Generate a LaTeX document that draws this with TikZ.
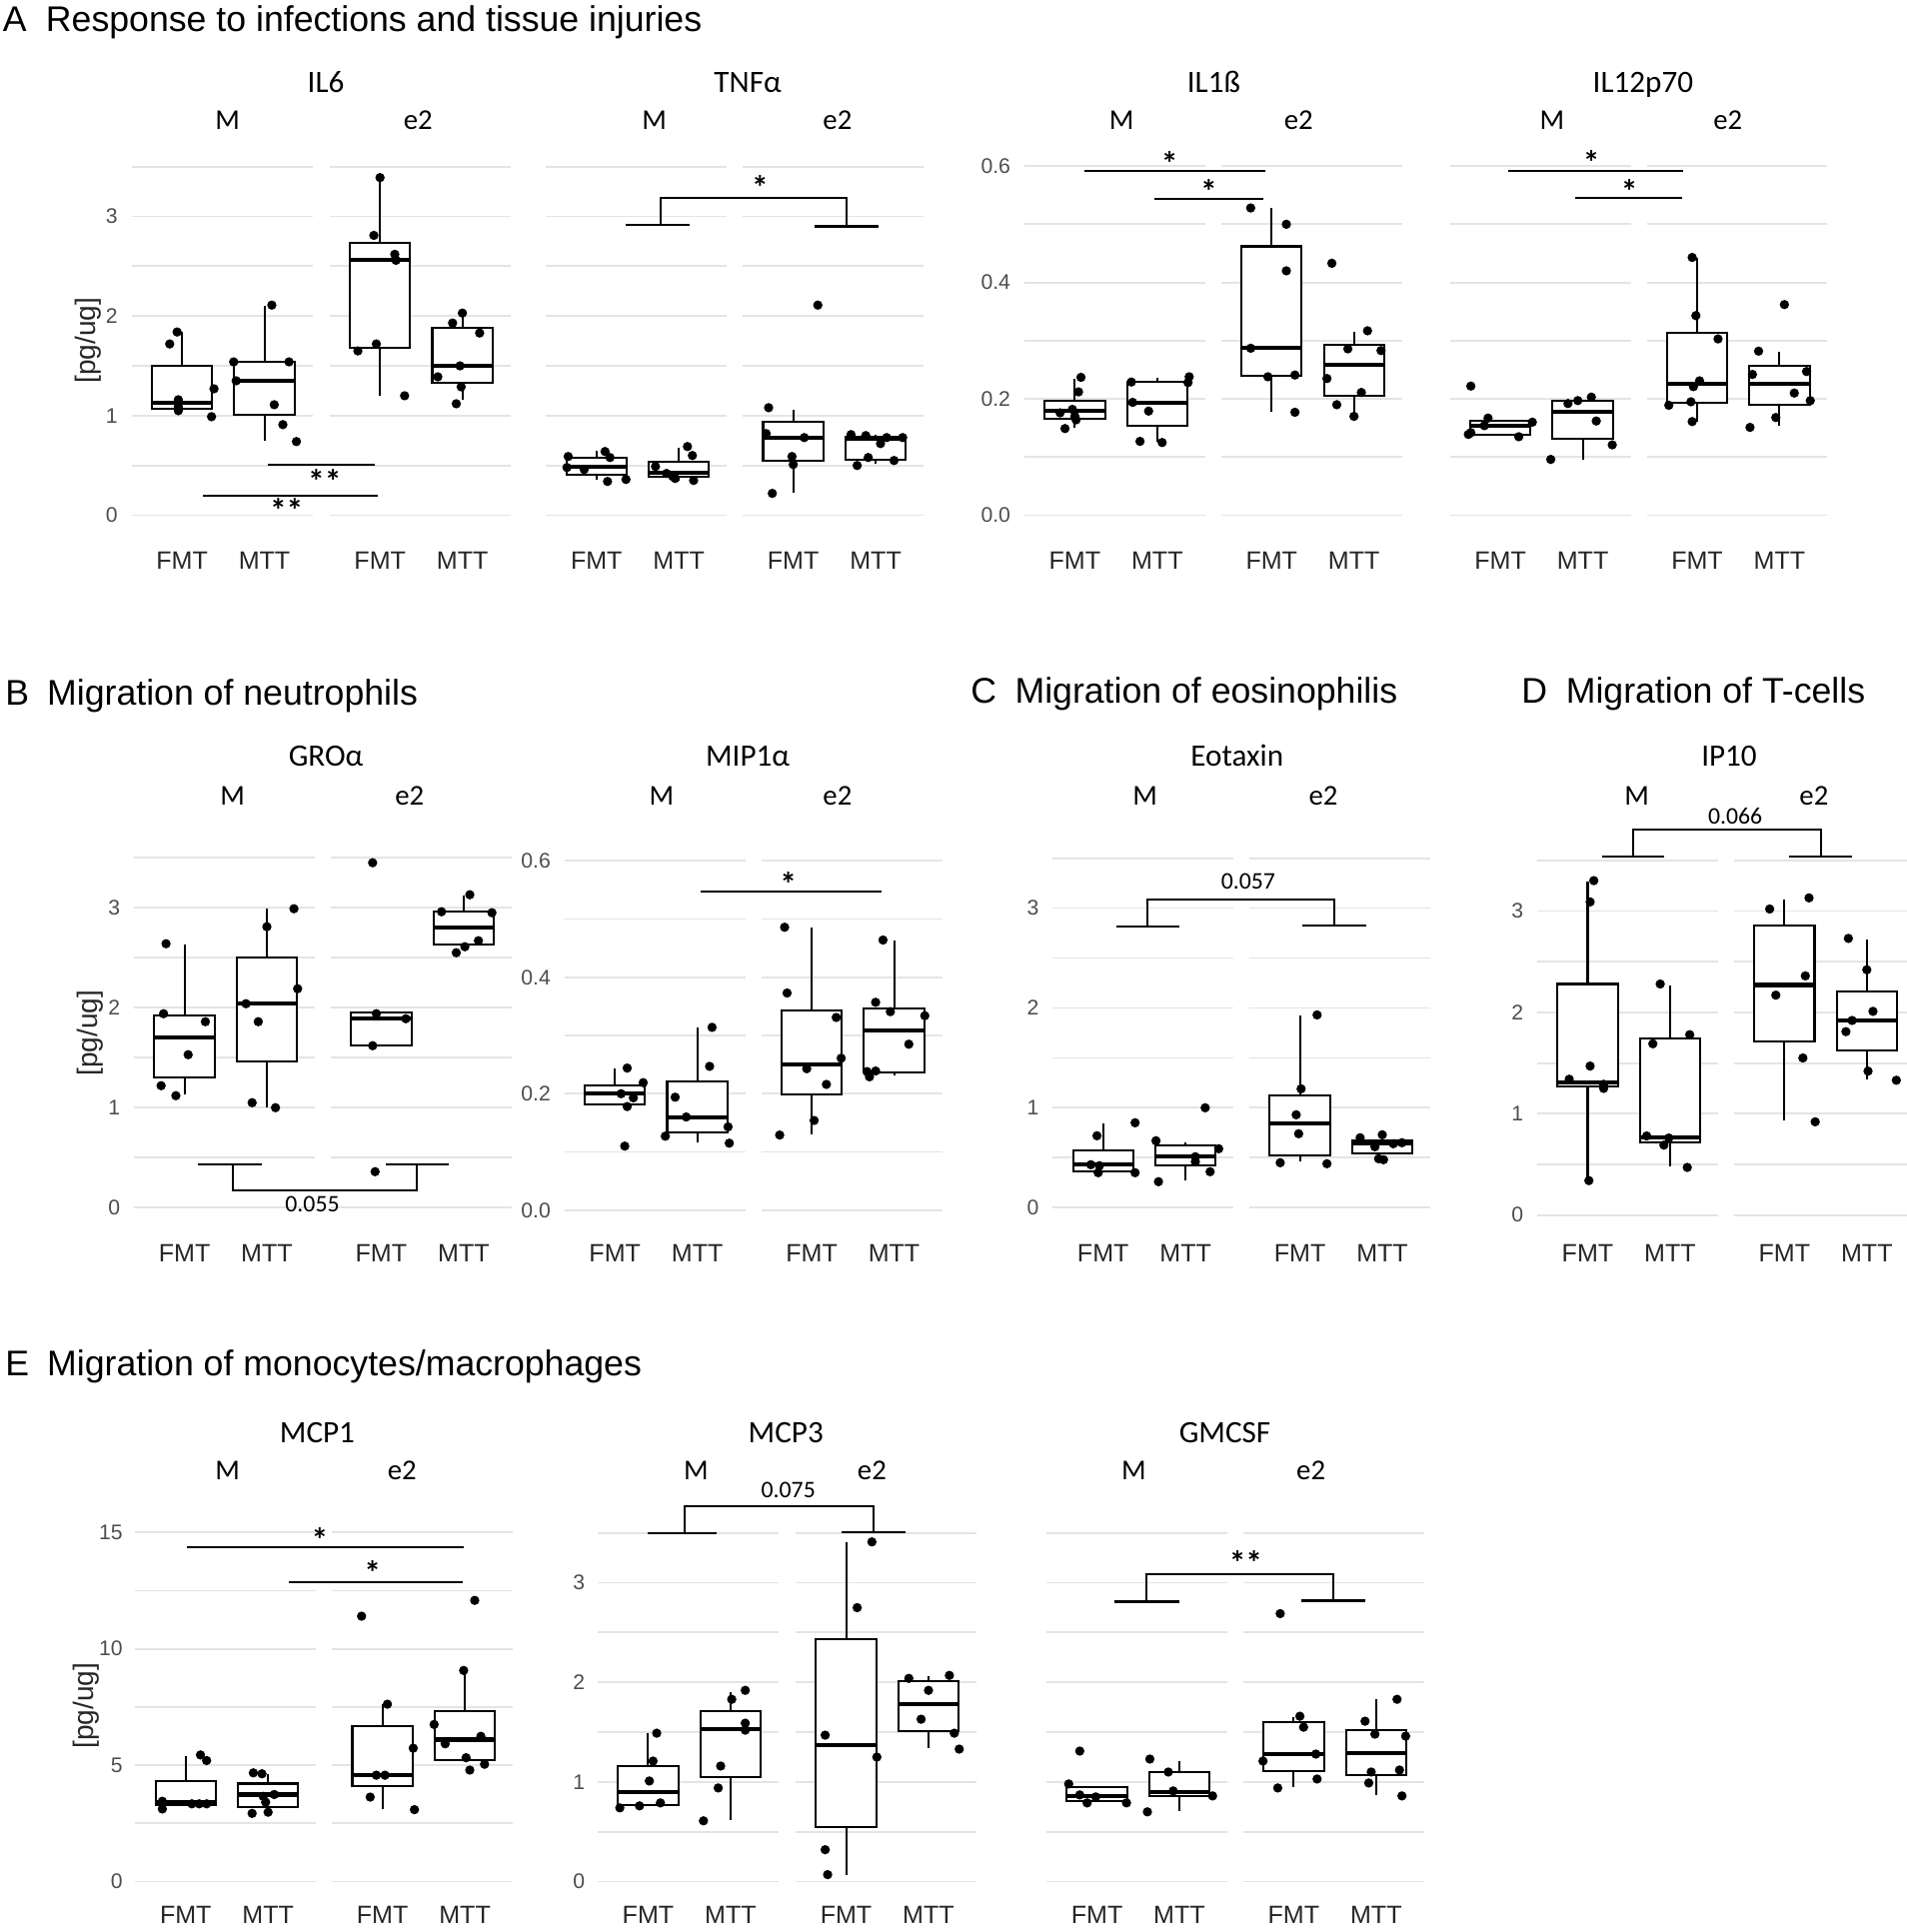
\documentclass[tikz,border=0pt]{standalone}
\usepackage{fontspec}
\setmainfont{Liberation Sans}
\newfontfamily\calfont{Carlito}
\usepackage{tikz}
\definecolor{gridgray}{HTML}{E4E4E4}
\definecolor{tickgray}{HTML}{4D4D4D}

\newcommand{\facets}[3]{%
  \foreach \g in {#3}
    \draw[gridln] (#1,{\yo-\ppu*\g}) -- ++(147,0) (#2,{\yo-\ppu*\g}) -- ++(147,0);
}
\newcommand{\yticks}[2]{%
  \foreach \v/\t in {#2}
    \node[ytick] at (#1,{\yo-\ppu*\v}) {\t};
}
\newcommand{\xlabs}[5]{%
  \foreach \x/\t in {#2/FMT,#3/MTT,#4/FMT,#5/MTT}
    \node[xlab] (x\x) at (\x,#1) {\t};
}
\newcommand{\bxp}[7]{%
  \draw[boxln] (#1,{\yo-\ppu*#2}) -- (#1,{\yo-\ppu*#6});
  \draw[boxln,fill=white] (#1-24.5,{\yo-\ppu*#3}) rectangle (#1+24.5,{\yo-\ppu*#5});
  \draw[medln] (#1-24.5,{\yo-\ppu*#4}) -- (#1+24.5,{\yo-\ppu*#4});
  \foreach \dx/\v in {#7}
    \fill (#1+\dx,{\yo-\ppu*\v}) circle[radius=3.8];
}
\newcommand{\sigline}[3]{%
  \draw[sig] (#1,{\yo-\ppu*#3}) -- (#2,{\yo-\ppu*#3});
}
\newcommand{\brk}[9]{%
  \draw[sig] (#1,{\yo-\ppu*#7}) -- (#2,{\yo-\ppu*#7})
    (#3,{\yo-\ppu*#7}) -- (#3,{\yo-\ppu*#8}) -- (#4,{\yo-\ppu*#8}) -- (#4,{\yo-\ppu*#9})
    (#5,{\yo-\ppu*#9}) -- (#6,{\yo-\ppu*#9});
}

\begin{document}
\begin{tikzpicture}[x=0.02cm,y=-0.02cm,
  every node/.style={inner sep=0pt},
  gridln/.style={gridgray,line width=0.85pt},
  boxln/.style={line width=0.95pt},
  medln/.style={line width=1.9pt},
  sig/.style={line width=0.95pt},
  hd/.style={anchor=base west,font=\fontsize{16.5}{19}\selectfont},
  ttl/.style={anchor=base,font=\calfont\fontsize{14.4}{16}\selectfont},
  grp/.style={anchor=base,font=\calfont\fontsize{13.3}{15}\selectfont},
  xlab/.style={font=\fontsize{11.6}{13}\selectfont,text=black!85},
  ytick/.style={anchor=east,font=\fontsize{9.8}{11}\selectfont,text=tickgray},
  ylab/.style={rotate=90,font=\fontsize{13}{15}\selectfont,text=black!85},
  star/.style={font=\calfont\bfseries\fontsize{15.5}{17}\selectfont},
  pval/.style={font=\calfont\fontsize{11}{13}\selectfont}]
\useasboundingbox (0,0) rectangle (1550,1571);

\node[hd] (hA) at (2,26) {A};
\node[hd] (hAt) at (37,26) {Response to infections and tissue injuries};
\node[hd] (hB) at (4,573) {B};
\node[hd] (hBt) at (38,573) {Migration of neutrophils};
\node[hd] (hC) at (789,572) {C};
\node[hd] (hCt) at (825,572) {Migration of eosinophilis};
\node[hd] (hD) at (1237,572) {D};
\node[hd] (hDt) at (1273,572) {Migration of T-cells};
\node[hd] (hE) at (4,1119) {E};
\node[hd] (hEt) at (38,1119) {Migration of monocytes/macrophages};

% IL6
\def\yo{419}\def\ppu{81}
\facets{107}{268}{0,0.5,1,1.5,2,2.5,3,3.5}
\yticks{96}{0/0,1/1,2/2,3/3}
\bxp{148}{1.07}{1.07}{1.13}{1.50}{1.84}{-10/1.72,-4/1.84,-3/1.16,-3/1.09,-3/1.05,26/1.27,24/0.99}
\bxp{215}{0.75}{1.01}{1.35}{1.54}{2.10}{6/2.11,-25/1.54,20/1.54,-23/1.35,8/1.11,15/0.91,26/0.74}
\bxp{309}{1.20}{1.68}{2.56}{2.73}{3.39}{0/3.39,-5/2.81,12/2.62,13/2.56,-3/1.72,-18/1.65,20/1.20}
\bxp{376}{1.16}{1.33}{1.50}{1.88}{2.02}{0/2.03,-8/1.93,14/1.83,-2/1.50,-20/1.39,-1/1.29,-5/1.12}
\sigline{218}{305}{0.51}
\sigline{165}{307}{0.20}
\node[star] (sIL6a) at (264,391) {**};
\node[star] (sIL6b) at (233,415) {**};
\xlabs{456}{148}{215}{309}{376}
\node[ylab] (yIL6) at (72,277) {[pg/ug]};
\node[ttl] (tIL6) at (265,75) {IL6};
\node[grp] (mIL6) at (185,105) {M};
\node[grp] (eIL6) at (340,105) {e2};

% TNFa
\facets{444}{604}{0,0.5,1,1.5,2,2.5,3,3.5}
\bxp{485}{0.36}{0.41}{0.49}{0.58}{0.65}{-23/0.59,-24/0.48,-10/0.46,7/0.64,11/0.58,9/0.34,24/0.36}
\bxp{552}{0.35}{0.39}{0.43}{0.54}{0.68}{-19/0.49,-10/0.42,-3/0.37,7/0.69,11/0.60,12/0.35,-5/0.39}
\bxp{645}{0.23}{0.55}{0.78}{0.94}{1.06}{-20/1.08,-22/0.82,9/0.78,-1/0.59,0/0.51,-17/0.22,20/2.11}
\bxp{712}{0.52}{0.56}{0.77}{0.79}{0.81}{-20/0.81,-8/0.80,9/0.78,4/0.72,22/0.78,-6/0.58,15/0.55,-15/0.50}
\brk{509}{561}{537}{688}{662}{714}{2.92}{3.19}{2.90}
\node[star] (sTNF) at (618,152) {*};
\xlabs{456}{485}{552}{645}{712}
\node[ttl] (tTNF) at (608,75) {TNFα};
\node[grp] (mTNF) at (532,105) {M};
\node[grp] (eTNF) at (681,105) {e2};

% IL1b
\def\ppu{473.3}
\facets{833}{993}{0,0.1,0.2,0.3,0.4,0.5,0.6}
\yticks{822}{0/0.0,0.2/0.2,0.4/0.4,0.6/0.6}
\bxp{874}{0.150}{0.166}{0.179}{0.197}{0.235}{5/0.237,3/0.212,-12/0.176,-2/0.182,0/0.170,1/0.164,-8/0.149}
\bxp{941}{0.127}{0.154}{0.194}{0.229}{0.237}{-21/0.229,26/0.238,25/0.228,-20/0.194,-7/0.179,-14/0.127,4/0.125}
\bxp{1034}{0.178}{0.239}{0.287}{0.462}{0.528}{-17/0.528,12/0.500,12/0.420,-17/0.287,-3/0.238,19/0.241,19/0.177}
\bxp{1101}{0.170}{0.205}{0.259}{0.293}{0.316}{-18/0.433,11/0.317,-5/0.286,22/0.283,-22/0.235,6/0.211,-14/0.190,0/0.170}
\sigline{882}{1029}{0.592}
\sigline{939}{1027}{0.544}
\node[star] (sIL1a) at (951,133) {*};
\node[star] (sIL1b) at (983,156) {*};
\xlabs{456}{874}{941}{1034}{1101}
\node[ttl] (tIL1) at (987,75) {IL1ß};
\node[grp] (mIL1) at (912,105) {M};
\node[grp] (eIL1) at (1056,105) {e2};

% IL12p70
\facets{1179}{1339}{0,0.1,0.2,0.3,0.4,0.5,0.6}
\bxp{1220}{0.139}{0.139}{0.154}{0.162}{0.162}{-24/0.222,-10/0.167,-13/0.154,-26/0.139,-24/0.142,15/0.135,26/0.160}
\bxp{1287}{0.096}{0.131}{0.178}{0.197}{0.197}{-12/0.192,-4/0.197,7/0.203,11/0.162,24/0.121,-26/0.096}
\bxp{1380}{0.160}{0.193}{0.226}{0.314}{0.443}{-4/0.443,-1/0.343,17/0.303,2/0.231,-3/0.221,-5/0.195,-23/0.189,-4/0.161}
\bxp{1447}{0.154}{0.190}{0.226}{0.256}{0.281}{4/0.362,-17/0.282,-22/0.242,22/0.247,12/0.210,25/0.197,-3/0.168,-24/0.151}
\sigline{1226}{1369}{0.592}
\sigline{1281}{1368}{0.545}
\node[star] (sIL12a) at (1294,132) {*};
\node[star] (sIL12b) at (1325,156) {*};
\xlabs{456}{1220}{1287}{1380}{1447}
\node[ttl] (tIL12) at (1336,75) {IL12p70};
\node[grp] (mIL12) at (1262,105) {M};
\node[grp] (eIL12) at (1405,105) {e2};

% GROa
\def\yo{982}\def\ppu{81.3}
\facets{109}{269}{0,0.5,1,1.5,2,2.5,3,3.5}
\yticks{98}{0/0,1/1,2/2,3/3}
\bxp{150}{1.13}{1.30}{1.70}{1.92}{2.63}{-15/2.64,-17/1.94,17/1.86,3/1.53,-19/1.22,-7/1.12}
\bxp{217}{1.00}{1.46}{2.04}{2.50}{2.99}{22/2.99,0/2.81,25/2.19,-17/2.04,-7/1.86,-12/1.05,7/1.00}
\bxp{310}{1.62}{1.62}{1.89}{1.95}{1.95}{-7/3.45,-4/1.94,20/1.89,-7/1.62,-5/0.36}
\bxp{377}{2.63}{2.63}{2.80}{2.96}{3.12}{5/3.13,-18/2.96,23/2.95,-6/2.55,1/2.61,12/2.67}
\brk{161}{213}{189}{339}{314}{365}{0.43}{0.17}{0.43}
\node[pval] (pGRO) at (254,979) {0.055};
\xlabs{1019}{150}{217}{310}{377}
\node[ylab] (yGRO) at (73,840) {[pg/ug]};
\node[ttl] (tGRO) at (265,623) {GROα};
\node[grp] (mGRO) at (189,655) {M};
\node[grp] (eGRO) at (333,655) {e2};

% MIP1a
\def\yo{984}\def\ppu{473.3}
\facets{459}{619}{0,0.1,0.2,0.3,0.4,0.5,0.6}
\yticks{448}{0/0.0,0.2/0.2,0.4/0.4,0.6/0.6}
\bxp{500}{0.182}{0.182}{0.200}{0.215}{0.243}{10/0.244,23/0.219,5/0.200,15/0.193,10/0.178,8/0.110}
\bxp{567}{0.116}{0.134}{0.160}{0.221}{0.314}{12/0.314,10/0.247,-18/0.194,-9/0.160,25/0.143,-26/0.127,26/0.115}
\bxp{660}{0.130}{0.199}{0.251}{0.343}{0.486}{-22/0.486,-20/0.373,20/0.331,24/0.261,-4/0.243,12/0.216,2/0.154,-26/0.129}
\bxp{727}{0.232}{0.237}{0.309}{0.346}{0.464}{-9/0.464,-15/0.357,-3/0.341,25/0.334,12/0.285,-22/0.238,-20/0.229,-15/0.239}
\sigline{570}{717}{0.548}
\node[star] (sMIP) at (641,719) {*};
\xlabs{1019}{500}{567}{660}{727}
\node[ttl] (tMIP) at (608,623) {MIP1α};
\node[grp] (mMIP) at (538,655) {M};
\node[grp] (eMIP) at (681,655) {e2};

% Eotaxin
\def\yo{982}\def\ppu{81.2}
\facets{856}{1016}{0,0.5,1,1.5,2,2.5,3,3.5}
\yticks{845}{0/0,1/1,2/2,3/3}
\bxp{897}{0.36}{0.36}{0.43}{0.57}{0.84}{26/0.85,-5/0.72,-10/0.43,-3/0.42,-4/0.35,26/0.35}
\bxp{964}{0.27}{0.42}{0.51}{0.62}{0.65}{16/1.00,-24/0.67,27/0.59,8/0.51,8/0.46,20/0.36,-22/0.26}
\bxp{1057}{0.46}{0.52}{0.84}{1.12}{1.92}{14/1.93,1/1.19,-3/0.93,-1/0.74,-16/0.45,22/0.44}
\bxp{1124}{0.54}{0.54}{0.64}{0.67}{0.67}{-18/0.70,0/0.73,-6/0.61,9/0.64,16/0.65,-3/0.49,1/0.48}
\brk{908}{959}{933}{1085}{1059}{1111}{2.82}{3.09}{2.83}
\node[pval] (pEOT) at (1015,717) {0.057};
\xlabs{1019}{897}{964}{1057}{1124}
\node[ttl] (tEOT) at (1006,623) {Eotaxin};
\node[grp] (mEOT) at (931,655) {M};
\node[grp] (eEOT) at (1076,655) {e2};

% IP10
\def\yo{988}\def\ppu{82.4}
\facets{1250}{1410}{0,0.5,1,1.5,2,2.5,3,3.5}
\yticks{1239}{0/0,1/1,2/2,3/3}
\bxp{1291}{0.34}{1.27}{1.31}{2.28}{3.29}{5/3.30,2/3.09,2/1.47,-15/1.34,13/1.29,13/1.25,1/0.34}
\bxp{1358}{0.48}{0.72}{0.77}{1.74}{2.27}{-8/2.28,16/1.78,-14/1.69,-19/0.78,-1/0.76,-5/0.69,14/0.47}
\bxp{1451}{0.93}{1.71}{2.27}{2.86}{3.11}{20/3.13,-12/3.02,17/2.36,-7/2.17,15/1.55,25/0.92}
\bxp{1518}{1.34}{1.62}{1.92}{2.21}{2.72}{-15/2.73,0/2.42,5/2.01,-12/1.92,-17/1.81,1/1.42,24/1.33}
\brk{1303}{1353}{1328}{1481}{1455}{1506}{3.54}{3.80}{3.54}
\node[pval] (pIP) at (1411,664) {0.066};
\xlabs{1019}{1291}{1358}{1451}{1518}
\node[ttl] (tIP) at (1406,623) {IP10};
\node[grp] (mIP) at (1331,655) {M};
\node[grp] (eIP) at (1475,655) {e2};

% MCP1
\def\yo{1530}\def\ppu{18.93}
\facets{110}{270}{0,2.5,5,7.5,10,12.5,15}
\yticks{100}{0/0,5/5,10/10,15/15}
\bxp{151}{3.31}{3.31}{3.41}{4.31}{5.37}{12/5.44,17/5.20,-19/3.45,-19/3.12,5/3.34,11/3.34,17/3.34}
\bxp{218}{3.19}{3.19}{3.74}{4.21}{4.64}{-12/4.67,-5/4.63,5/3.74,-4/3.66,-2/3.41,-13/2.93,0/2.98}
\bxp{311}{3.12}{4.09}{4.57}{6.68}{7.62}{-17/11.40,4/7.62,25/5.73,-5/4.57,2/4.57,-10/3.63,26/3.09}
\bxp{378}{5.22}{5.22}{6.10}{7.33}{9.03}{8/12.08,-1/9.07,-25/6.75,-16/5.92,13/6.24,1/5.32,4/4.79,16/5.04}
\sigline{152}{377}{14.38}
\sigline{235}{376}{12.88}
\node[star] (sMCP1a) at (260,1252) {*};
\node[star] (sMCP1b) at (303,1279) {*};
\xlabs{1557}{151}{218}{311}{378}
\node[ylab] (yMCP1) at (70,1387) {[pg/ug]};
\node[ttl] (tMCP1) at (258,1173) {MCP1};
\node[grp] (mMCP1) at (185,1203) {M};
\node[grp] (eMCP1) at (327,1203) {e2};

% MCP3
\def\ppu{81}
\facets{486}{647}{0,0.5,1,1.5,2,2.5,3,3.5}
\yticks{476}{0/0,1/1,2/2,3/3}
\bxp{527}{0.77}{0.77}{0.90}{1.16}{1.49}{7/1.49,4/1.21,1/1.01,-23/0.74,-7/0.76,10/0.79}
\bxp{594}{0.62}{1.05}{1.53}{1.71}{1.90}{12/1.92,1/1.83,12/1.59,12/1.52,-8/1.16,-10/0.94,-22/0.61}
\bxp{688}{0.07}{0.55}{1.37}{2.43}{3.41}{21/3.41,9/2.75,-17/1.47,25/1.25,-17/0.32,-15/0.07}
\bxp{755}{1.34}{1.51}{1.78}{2.01}{2.06}{-16/2.04,17/2.07,0/1.92,-6/1.63,21/1.49,25/1.33}
\brk{527}{583}{557}{710}{684}{736}{3.50}{3.77}{3.51}
\node[pval] (pMCP3) at (641,1212) {0.075};
\xlabs{1557}{527}{594}{688}{755}
\node[ttl] (tMCP3) at (639,1173) {MCP3};
\node[grp] (mMCP3) at (566,1203) {M};
\node[grp] (eMCP3) at (709,1203) {e2};

% GMCSF
\facets{851}{1011}{0,0.5,1,1.5,2,2.5,3,3.5}
\bxp{892}{0.81}{0.81}{0.86}{0.95}{0.95}{-14/1.31,-23/0.98,-14/0.87,-1/0.85,-8/0.79,24/0.79}
\bxp{959}{0.71}{0.86}{0.90}{1.10}{1.21}{-24/1.23,-9/1.10,-5/0.91,27/0.86,-26/0.70}
\bxp{1052}{0.95}{1.11}{1.28}{1.60}{1.65}{-11/2.69,5/1.66,8/1.55,18/1.28,-25/1.21,19/1.03,-13/0.94}
\bxp{1119}{0.87}{1.07}{1.29}{1.52}{1.83}{17/1.83,-9/1.61,-1/1.48,24/1.46,-4/1.10,19/1.12,-6/0.99,21/0.86}
\brk{906}{959}{932}{1084}{1058}{1110}{2.81}{3.09}{2.82}
\node[star] (sGM) at (1013,1271) {**};
\xlabs{1557}{892}{959}{1052}{1119}
\node[ttl] (tGM) at (996,1173) {GMCSF};
\node[grp] (mGM) at (922,1203) {M};
\node[grp] (eGM) at (1066,1203) {e2};
\end{tikzpicture}
\end{document}
